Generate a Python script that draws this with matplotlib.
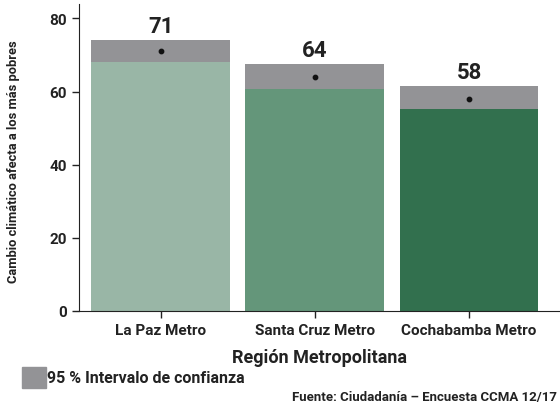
import matplotlib.pyplot as plt
from matplotlib.patches import Rectangle

plt.rcParams['font.family'] = ['Roboto', 'DejaVu Sans']

# data
regions = ['La Paz Metro', 'Santa Cruz Metro', 'Cochabamba Metro']
means = [71, 64, 58]
ci_low = [68.2, 60.8, 55.3]
ci_high = [74.1, 67.5, 61.5]
bar_colors = ['#99b6a6', '#64967a', '#32704e']
ci_color = '#939396'
text_color = '#222222'

fig = plt.figure(figsize=(5.6, 4.06), dpi=100)
ax = fig.add_axes([0.141, 0.232, 0.859, 0.756])

pos = list(range(len(regions)))
ax.bar(pos, ci_low, width=0.9, color=bar_colors, zorder=2)
ax.bar(pos, [h - l for h, l in zip(ci_high, ci_low)], bottom=ci_low,
       width=0.9, color=ci_color, zorder=2)
ax.scatter(pos, means, s=10, color='#111111', zorder=3)

for x, m, h in zip(pos, means, ci_high):
    ax.text(x, h + 0.9, f'{m}', ha='center', va='bottom', fontsize=16,
            fontweight='bold', color=text_color)

ax.set_xlim(-0.53, 2.59)
ax.set_ylim(0, 84)
ax.set_yticks([0, 20, 40, 60, 80])
ax.set_xticks(pos)
ax.set_xticklabels(regions)
ax.tick_params(axis='both', labelsize=11, length=5, width=1, colors='#222222')
for lab in ax.get_xticklabels() + ax.get_yticklabels():
    lab.set_fontweight('bold')

for s in ['top', 'right']:
    ax.spines[s].set_visible(False)
for s in ['left', 'bottom']:
    ax.spines[s].set_color('#222222')

ax.set_xlabel('Región Metropolitana', fontsize=13, fontweight='bold',
              color=text_color)
ax.xaxis.set_label_coords(0.5, -0.122)
ax.set_ylabel('Cambio climático afecta a los más pobres', fontsize=9.3,
              fontweight='bold', color=text_color)
ax.yaxis.set_label_coords(-0.123, 0.49)

# legend box and caption
fig.patches.append(Rectangle((22 / 560, 1 - 389 / 406), 24 / 560, 21 / 406,
                             transform=fig.transFigure, color=ci_color))
fig.text(47 / 560, 1 - 379 / 406, '95 % Intervalo de confianza', fontsize=11.5,
         fontweight='bold', color=text_color, va='center', ha='left')
fig.text(557 / 560, 1 - 398 / 406, 'Fuente: Ciudadanía – Encuesta CCMA 12/17',
         fontsize=9.5, fontweight='bold', color=text_color, va='center', ha='right')

fig.savefig('out.png', dpi=100)
